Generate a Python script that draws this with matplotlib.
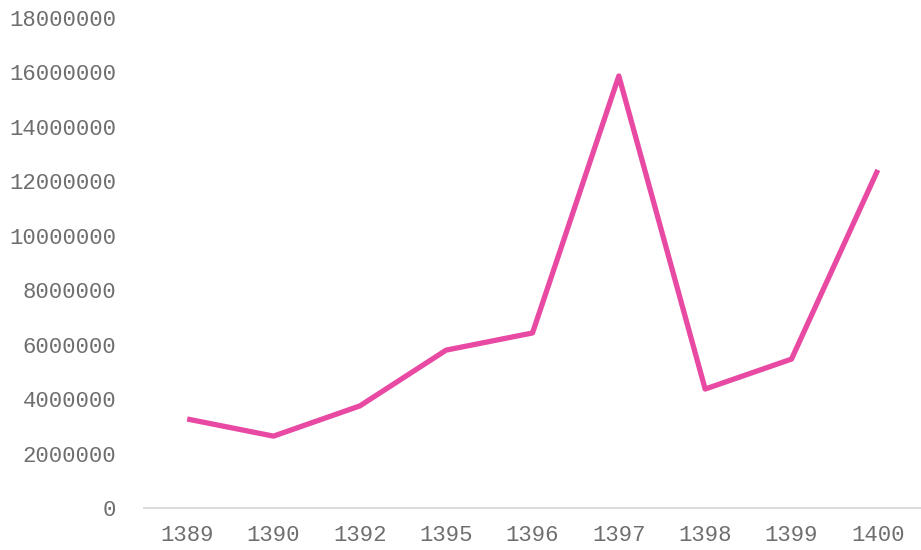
import matplotlib
matplotlib.use("Agg")
import matplotlib.pyplot as plt

years = ["1389", "1390", "1392", "1395", "1396", "1397", "1398", "1399", "1400"]
values = [3270000, 2640000, 3750000, 5800000, 6430000, 15870000, 4370000, 5470000, 12420000]

plt.rcParams['font.family'] = ['Liberation Mono', 'DejaVu Sans']

fig = plt.figure(figsize=(9.21, 5.5), dpi=100)
ax = fig.add_axes([144 / 921, 42 / 550, 777 / 921, 490 / 550])

x = list(range(len(years)))
ax.plot(x, values, color='#E84AA3', linewidth=3.8, solid_joinstyle='round', solid_capstyle='butt')

ax.set_xlim(-0.5, len(years) - 0.5)
ax.set_ylim(0, 18000000)
ax.set_yticks(range(0, 18000001, 2000000))
ax.set_yticklabels([str(v) for v in range(0, 18000001, 2000000)])
ax.set_xticks(x)
ax.set_xticklabels(years)

for side in ['top', 'right', 'left']:
    ax.spines[side].set_visible(False)
ax.spines['bottom'].set_color('#D9D9D9')
ax.spines['bottom'].set_linewidth(1.3)
ax.tick_params(axis='both', length=0, labelsize=16, labelcolor='#6E6E6E')
ax.tick_params(axis='y', pad=20)
ax.tick_params(axis='x', pad=12)

fig.savefig("out.png", dpi=100)
